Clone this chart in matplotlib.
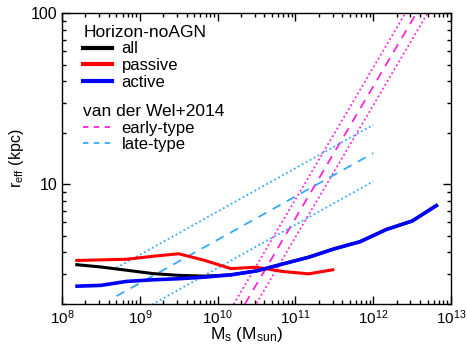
import numpy as np
import matplotlib
matplotlib.use("Agg")
import matplotlib.pyplot as plt
from matplotlib.lines import Line2D
from matplotlib.ticker import LogLocator, FixedLocator, FixedFormatter, NullFormatter

plt.rcParams['font.family'] = ['Liberation Sans', 'DejaVu Sans']
plt.rcParams['mathtext.fontset'] = 'custom'
plt.rcParams['mathtext.rm'] = 'Liberation Sans'
plt.rcParams['mathtext.it'] = 'Liberation Sans'

# Horizon-noAGN size-mass relations (log10 stellar mass, r_eff in kpc)
logm_sim = [8.17, 8.5, 8.83, 9.17, 9.5, 9.83, 10.17, 10.5, 10.83, 11.17, 11.5, 11.83, 12.17, 12.5, 12.83]
r_active = [2.54, 2.57, 2.71, 2.77, 2.81, 2.87, 2.96, 3.12, 3.42, 3.75, 4.2, 4.62, 5.45, 6.1, 7.6]
r_all = [3.4, 3.29, 3.15, 3.01, 2.94, 2.91, 2.96, 3.12, 3.42, 3.75, 4.2, 4.62, 5.45, 6.1, 7.6]
logm_pas = [8.17, 8.5, 8.83, 9.17, 9.5, 9.83, 10.17, 10.5, 10.83, 11.17, 11.5]
r_passive = [3.59, 3.62, 3.65, 3.8, 3.93, 3.6, 3.22, 3.28, 3.1, 3.0, 3.18]

# van der Wel+2014 fits: log r = log A + slope * (log M - 10.7), scatter
early_logA, early_slope, early_sig = 0.57, 0.77, 0.11
early_range = [10.0, 13.0]
late_logA, late_slope, late_sig = 0.853, 0.253, 0.165
late_range = [8.7, 12.0]

x_ticklabels = [r'10$^{8}$', r'10$^{9}$', r'10$^{10}$', r'10$^{11}$', r'10$^{12}$', r'10$^{13}$']
y_ticklabels = ['10', '100']

fig = plt.figure(figsize=(4.67, 3.45), dpi=100)
ax = fig.add_axes([0.1328, 0.1188, 0.8329, 0.8435])

c_early = '#ff22dd'
c_late = '#33aaff'

def vdw(logA, slope, rng):
    lm = np.array(rng)
    return 10**lm, 10**(logA + slope * (lm - 10.7))

for logA, slope, sig, rng, c in [(early_logA, early_slope, early_sig, early_range, c_early),
                                 (late_logA, late_slope, late_sig, late_range, c_late)]:
    m, r = vdw(logA, slope, rng)
    ax.plot(m, r, color=c, lw=1.3, dashes=(5, 4))
    for s in (-sig, sig):
        m, r = vdw(logA + s, slope, rng)
        ax.plot(m, r, color=c, lw=1.3, dashes=(1, 1.5))

ax.plot(10**np.array(logm_sim), r_all, color='black', lw=2.2, solid_capstyle='butt')
ax.plot(10**np.array(logm_pas), r_passive, color='#ff0000', lw=2.2, solid_capstyle='butt')
ax.plot(10**np.array(logm_sim), r_active, color='#0000ff', lw=2.6, solid_capstyle='butt')

ax.set_xscale('log')
ax.set_yscale('log')
ax.set_xlim(1e8, 1e13)
ax.set_ylim(2, 100)

ax.xaxis.set_major_locator(FixedLocator([1e8, 1e9, 1e10, 1e11, 1e12, 1e13]))
ax.xaxis.set_major_formatter(FixedFormatter(x_ticklabels))
ax.xaxis.set_minor_locator(LogLocator(base=10, subs=np.arange(2, 10), numticks=20))
ax.xaxis.set_minor_formatter(NullFormatter())
ax.yaxis.set_major_locator(FixedLocator([10, 100]))
ax.yaxis.set_major_formatter(FixedFormatter(y_ticklabels))
ax.yaxis.set_minor_locator(LogLocator(base=10, subs=np.arange(2, 10), numticks=20))
ax.yaxis.set_minor_formatter(NullFormatter())

ax.tick_params(which='both', direction='in', top=True, right=True, width=1.0, colors='black')
ax.tick_params(which='major', length=6)
ax.tick_params(which='minor', length=3)
ax.tick_params(axis='x', which='major', labelsize=11, pad=3)
ax.tick_params(axis='y', which='major', labelsize=11.5, pad=3)
for sp in ax.spines.values():
    sp.set_linewidth(1.0)

ax.set_xlabel(r'M$_{\rm s}$ (M$_{\rm sun}$)', fontsize=12.5)
ax.xaxis.set_label_coords(0.475, -0.072)
ax.set_ylabel(r'r$_{\rm eff}$ (kpc)', fontsize=11.5, labelpad=4)

h1 = [Line2D([], [], color='black', lw=3), Line2D([], [], color='#ff0000', lw=3), Line2D([], [], color='#0000ff', lw=3)]
leg1 = ax.legend(h1, ['all', 'passive', 'active'], title='Horizon-noAGN', loc='upper left',
                 bbox_to_anchor=(0.0245, 1.0), frameon=False, fontsize=12, title_fontsize=12.5,
                 handlelength=1.7, handletextpad=0.6, labelspacing=0.1, alignment='left', borderpad=0.2)
ax.add_artist(leg1)
h2 = [Line2D([], [], color=c_early, lw=1.3, dashes=(3, 3)), Line2D([], [], color=c_late, lw=1.3, dashes=(3, 3))]
leg2 = ax.legend(h2, ['early-type', 'late-type'], title='van der Wel+2014', loc='upper left',
                 bbox_to_anchor=(0.0245, 0.7275), frameon=False, fontsize=12, title_fontsize=12.5,
                 handlelength=1.7, handletextpad=0.6, labelspacing=0.1, alignment='left', borderpad=0.2)

fig.savefig('out.png', dpi=100)
